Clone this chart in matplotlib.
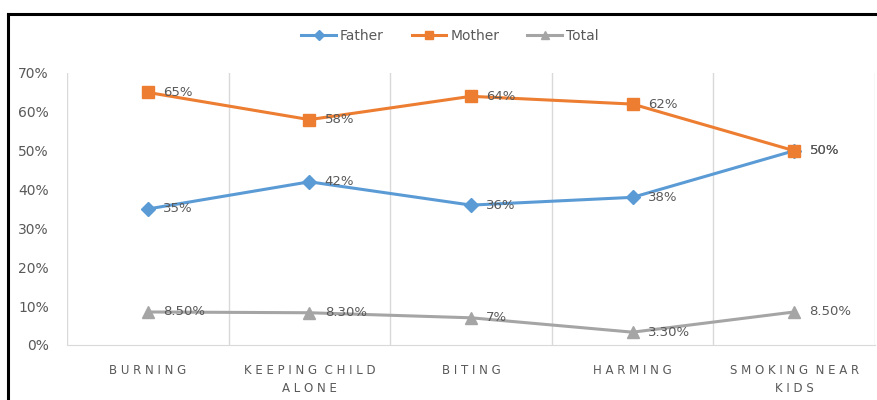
import matplotlib
matplotlib.use("Agg")
from matplotlib import pyplot as plt
from matplotlib.lines import Line2D

categories = ["BURNING", "KEEPING CHILD\nALONE", "BITING", "HARMING", "SMOKING NEAR\nKIDS"]
father = [35, 42, 36, 38, 50]
mother = [65, 58, 64, 62, 50]
total = [8.5, 8.3, 7, 3.3, 8.5]
father_labels = ["35%", "42%", "36%", "38%", "50%"]
mother_labels = ["65%", "58%", "64%", "62%", "50%"]
total_labels = ["8.50%", "8.30%", "7%", "3.30%", "8.50%"]
yticks = [0, 10, 20, 30, 40, 50, 60, 70]

text_grey = "#595959"
grid_grey = "#d9d9d9"


def spaced(label):
    # letter-spaced caps like the original axis labels
    lines = []
    for line in label.split("\n"):
        lines.append("  ".join(" ".join(w) for w in line.split(" ")))
    return "\n".join(lines)


fig = plt.figure(figsize=(8.78, 4.0), dpi=100)
ax = fig.add_axes([67 / 878, 55 / 400, 808 / 878, 272 / 400])

x = list(range(len(categories)))
series = [
    ("Father", father, father_labels, "#5b9bd5", "D", 7),
    ("Mother", mother, mother_labels, "#ed7d31", "s", 8.5),
    ("Total", total, total_labels, "#a5a5a5", "^", 8.5),
]
for name, vals, labels, color, marker, ms in series:
    ax.plot(x, vals, color=color, lw=2.2, marker=marker, markersize=ms,
            label=name, zorder=3)
    for xi, v, lab in zip(x, vals, labels):
        ax.annotate(lab, (xi, v), xytext=(11, 0), textcoords="offset points",
                    ha="left", va="center", fontsize=9.5, color=text_grey,
                    zorder=4)

ax.set_xlim(-0.5, len(categories) - 0.5)
ax.set_ylim(0, 70)
ax.set_yticks(yticks)
ax.set_yticklabels([f"{t}%" for t in yticks])
ax.set_xticks(x)
ax.set_xticklabels([spaced(c) for c in categories], fontsize=8.5,
                   color=text_grey, linespacing=1.5)
ax.tick_params(axis="y", length=0, pad=13, labelsize=10, labelcolor=text_grey)
ax.tick_params(axis="x", length=0, pad=14)

for b in [i - 0.5 for i in range(len(categories) + 1)]:
    ax.axvline(b, color=grid_grey, lw=1, zorder=1)
for side in ["top", "right", "left"]:
    ax.spines[side].set_visible(False)
ax.spines["bottom"].set_color(grid_grey)

ax.legend(loc="upper center", bbox_to_anchor=(450 / 878, 0.96),
          bbox_transform=fig.transFigure, ncol=3, frameon=False,
          fontsize=10, labelcolor=text_grey, handlelength=2.5,
          markerscale=0.75, columnspacing=2.0, handletextpad=0.3)

# chart frame, cropped on the right and bottom
fig.add_artist(Line2D([8 / 878, 1.0], [1 - 14 / 400, 1 - 14 / 400],
                      color="black", lw=2.2, transform=fig.transFigure))
fig.add_artist(Line2D([8 / 878, 8 / 878], [0.0, 1 - 14 / 400],
                      color="black", lw=2.2, transform=fig.transFigure))

fig.savefig("out.png", dpi=100)
